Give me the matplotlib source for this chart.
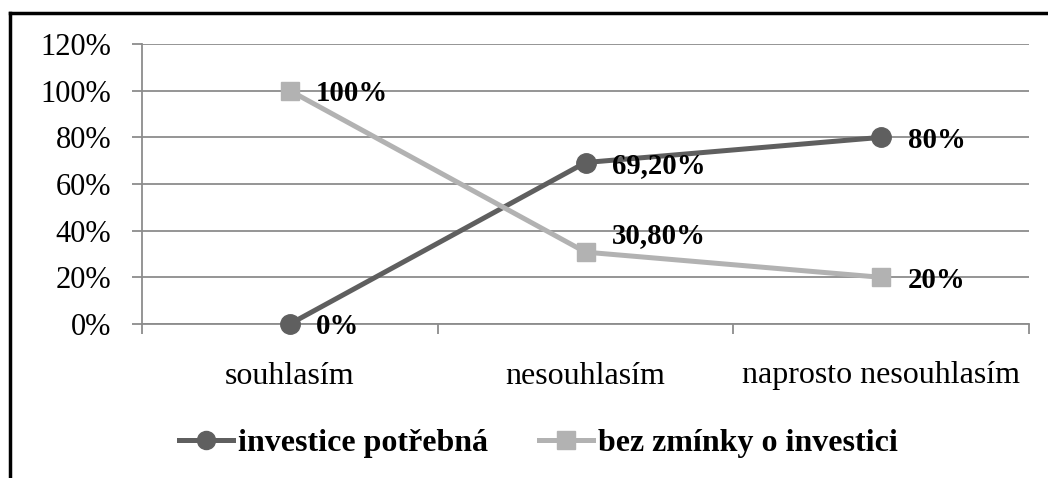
import matplotlib

matplotlib.use("Agg")
import matplotlib.pyplot as plt
from matplotlib.lines import Line2D
from matplotlib.ticker import FixedLocator, PercentFormatter

categories = ["souhlasím", "nesouhlasím", "naprosto nesouhlasím"]
series_names = ["investice potřebná", "bez zmínky o investici"]
investice = [0.0, 69.2, 80.0]
bez_zminky = [100.0, 30.8, 20.0]
investice_labels = ["0%", "69,20%", "80%"]
bez_zminky_labels = ["100%", "30,80%", "20%"]

DARK = "#5f5f5f"
LIGHT = "#b2b2b2"
GRID = "#8c8c8c"
FONT = "Liberation Serif"

plt.rcParams["font.family"] = [FONT, "DejaVu Serif"]

W, H = 1048, 478
fig = plt.figure(figsize=(W / 100, H / 100), dpi=100)
ax = fig.add_axes([142 / W, 1 - 324 / H, (1029 - 142) / W, (324 - 44) / H])

x = list(range(len(categories)))
ax.plot(x, investice, color=DARK, lw=3.6, marker="o", ms=14, zorder=3,
        clip_on=False, label=series_names[0])
ax.plot(x, bez_zminky, color=LIGHT, lw=3.6, marker="s", ms=13.5, zorder=3,
        clip_on=False, label=series_names[1])

# data labels, to the right of each point
for ys, labels in ((investice, investice_labels), (bez_zminky, bez_zminky_labels)):
    for xi, yi, lab in zip(x, ys, labels):
        dy = 12 if lab == "30,80%" else -2
        ax.annotate(lab, (xi, yi), xytext=(19, dy), textcoords="offset points",
                    ha="left", va="center", fontsize=20.7, fontweight="bold",
                    color="black", zorder=4)

ax.set_xlim(-0.5, len(categories) - 0.5)
ax.set_ylim(0, 120)
ax.set_yticks(range(0, 121, 20))
ax.yaxis.set_major_formatter(PercentFormatter(decimals=0))
ax.grid(axis="y", color=GRID, lw=1.3)
ax.set_axisbelow(True)

ax.set_xticks(x)
ax.set_xticklabels(categories)
ax.xaxis.set_minor_locator(FixedLocator([-0.5, 0.5, 1.5, 2.5]))
ax.tick_params(axis="x", which="major", length=0, pad=27, labelsize=23)
ax.tick_params(axis="x", which="minor", length=7.2, width=1.3, color=GRID, direction="out")
ax.tick_params(axis="y", length=7.2, width=1.3, color=GRID, pad=15, labelsize=22)

for side in ("top", "right"):
    ax.spines[side].set_visible(False)
for side in ("left", "bottom"):
    ax.spines[side].set_color(GRID)
    ax.spines[side].set_linewidth(1.3)

handles = [
    Line2D([], [], color=DARK, lw=3.6, marker="o", ms=13),
    Line2D([], [], color=LIGHT, lw=3.6, marker="s", ms=12.5),
]
fig.legend(handles, series_names, loc="center left",
           bbox_to_anchor=(179 / W, 1 - 443 / H), ncol=2, frameon=False,
           prop={"family": FONT, "weight": "bold", "size": 23},
           handlelength=1.69, handletextpad=0.16, columnspacing=1.6,
           borderpad=0, borderaxespad=0)

# outer chart frame (only top and left edges visible in the crop)
fig.add_artist(Line2D([10 / W, 1], [1 - 13 / H] * 2, color="black", lw=2.5,
                      transform=fig.transFigure))
fig.add_artist(Line2D([10 / W] * 2, [0, 1 - 13 / H], color="black", lw=2.5,
                      transform=fig.transFigure))

fig.savefig("out.png", dpi=100)
